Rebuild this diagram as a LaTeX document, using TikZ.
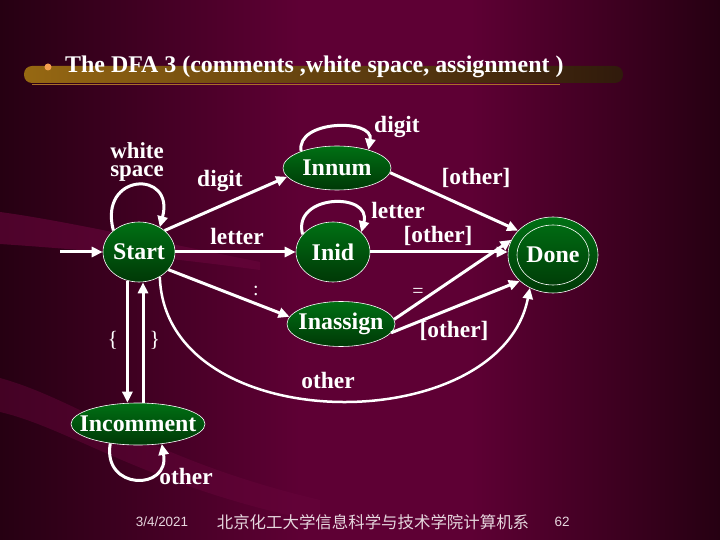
\documentclass[tikz,border=0pt]{standalone}
\usepackage{fontspec}
\setmainfont{Liberation Serif}
\newfontfamily\footfont{Liberation Sans}
\newfontfamily\cjkfont{Noto Sans CJK SC}
\usetikzlibrary{shapes.geometric,arrows.meta}
\definecolor{bgmid}{RGB}{94,0,52}
\definecolor{bgdark}{RGB}{38,0,18}
\definecolor{bglight}{RGB}{105,6,60}
\definecolor{statetop}{RGB}{0,112,20}
\definecolor{statebot}{RGB}{0,56,6}
\definecolor{bargold}{RGB}{150,104,18}
\definecolor{barmid}{RGB}{110,80,16}
\definecolor{bardark}{RGB}{48,26,12}
\definecolor{barline}{RGB}{170,112,40}
\definecolor{dotcol}{RGB}{245,160,80}
\definecolor{footcol}{RGB}{230,215,222}
% state name, kept from widening its ellipse
\newcommand{\sname}[1]{\makebox[0pt]{#1}}
\tikzset{
  state/.style={ellipse, draw=white, line width=0.6bp, top color=statetop,
    bottom color=statebot, inner sep=0pt, text=white,
    font=\bfseries\fontsize{24}{25}\selectfont},
  trans/.style={-{Triangle[length=11bp,width=10bp]}, white, line width=3bp},
  lbl/.style={text=white, inner sep=0pt, font=\bfseries\fontsize{23.5}{25}\selectfont},
  footer/.style={text=footcol, inner sep=0pt, font=\footfont\fontsize{13.5}{15}\selectfont}
}
\begin{document}
\begin{tikzpicture}[x=1bp, y=-1bp]
      \useasboundingbox (0,0) rectangle (720,540);
      % Draw background
      \fill[bgmid] (0,0) rectangle (720,540);
      \shade[left color=bgdark, right color=bgmid] (0,0) rectangle (300,540);
      \shade[left color=bgmid, right color=bgdark] (470,0) rectangle (720,540);
      \fill[bglight, opacity=0.6] (0,212) .. controls (60,220) and (150,240) .. (260,262)
        -- (260,270) .. controls (150,255) and (60,248) .. (0,244) -- cycle;
      \fill[bglight, opacity=0.45] (0,378) .. controls (80,400) and (150,460) .. (320,500)
        -- (320,522) .. controls (150,488) and (70,428) .. (0,412) -- cycle;

      % Title bar
      \shade[left color=bargold, middle color=barmid, right color=bardark, rounded corners=8bp] (24,66) rectangle (623,83);
      \draw[barline, line width=1bp] (32,85) -- (560,85);
      \fill[dotcol] (48,67) circle (3.5bp);
      \node[anchor=base west, inner sep=0pt, text=white, font=\bfseries\fontsize{24}{26}\selectfont]
        (title) at (65,73) {The DFA 3 (comments ,white space, assignment )};

      % States
      \node[state, minimum width=72bp, minimum height=60bp] (start) at (139,252) {\sname{Start}};
      \node[state, minimum width=108bp, minimum height=44bp] (innum) at (337,168) {\sname{Innum}};
      \node[state, minimum width=74bp, minimum height=60bp] (inid) at (333,252) {\sname{Inid}};
      \node[state, minimum width=90bp, minimum height=76bp] (done) at (553,255) {\sname{Done}};
      \draw[white, line width=0.6bp] (done.center) ellipse [x radius=36, y radius=30];
      \node[state, minimum width=108bp, minimum height=45bp] (inassign) at (341,324) {\sname{Inassign}};
      \node[state, minimum width=134bp, minimum height=42bp] (incomment) at (138,424) {\sname{Incomment}};

      % Entry arrow
      \coordinate (entry) at (60,252);
      \draw[trans] (entry) -- (start.west);

      % Transitions out of Start
      \draw[trans] (start.140) .. controls +(105:60bp) and +(75:60bp) .. (start.50);
      \draw[trans] (start.40) -- (innum.190);
      \draw[trans] (start.east) -- (inid.west);
      \draw[trans] (start.-31) -- (inassign.172);
      \draw[trans] (start.-112) -- (start.-112 |- incomment.north);
      \draw[trans] ([xshift=5bp]incomment.north) -- ([xshift=5bp]incomment.north |- start.south);
      \draw[trans, line width=2.5bp] (start.-50) .. controls (165,440) and (500,440) .. (done.-125);
      \draw[trans] (incomment.-145) .. controls +(-100:48bp) and +(-80:48bp) .. (incomment.-40);

      % Transitions into Done
      \draw[trans] (innum.155) .. controls +(100:32bp) and +(80:32bp) .. (innum.30);
      \draw[trans] (innum.-5) -- (done.145);
      \draw[trans] (inid.150) .. controls +(105:42bp) and +(75:42bp) .. (inid.35);
      \draw[trans] (inid.east) -- (inid.east -| done.west);
      \draw[trans] (inassign.5) -- (done.160);
      \draw[trans] (inassign.-10) -- (done.-142);

      % Labels
      \node[lbl, anchor=base, font=\bfseries\fontsize{23}{24}\selectfont] (lwhite) at (137,159) {white};
      \node[lbl, anchor=base, font=\bfseries\fontsize{23}{24}\selectfont] (lspace) at (137,177) {space};
      \node[lbl] (ldigit) at (220,181) {digit};
      \node[lbl] (lletter) at (237,236) {letter};
      \node[lbl, font=\fontsize{20}{22}\selectfont] (lcolon) at (256,291) {:};
      \node[lbl, font=\fontsize{22}{24}\selectfont] (lopen) at (113,340) {\{};
      \node[lbl, font=\fontsize{22}{24}\selectfont] (lclose) at (155,340) {\}};
      \node[lbl] (lother) at (328,380) {other};
      \node[lbl] (lcomm) at (186,476) {other};
      \node[lbl] (lnumloop) at (397,127) {digit};
      \node[lbl] (lnumdone) at (476,178) {[other]};
      \node[lbl] (lidloop) at (398,210) {letter};
      \node[lbl] (liddone) at (438,236) {[other]};
      \node[lbl, font=\fontsize{20}{22}\selectfont] (lequal) at (418,293) {=};
      \node[lbl] (lassdone) at (454,331) {[other]};

      % Footer
      \node[footer] (date) at (162,522) {3/4/2021};
      \node[footer, font=\cjkfont\fontsize{16.5}{18}\selectfont] (school) at (373,522) {北京化工大学信息科学与技术学院计算机系};
      \node[footer] (page) at (562,522) {62};
    \end{tikzpicture}
\end{document}
